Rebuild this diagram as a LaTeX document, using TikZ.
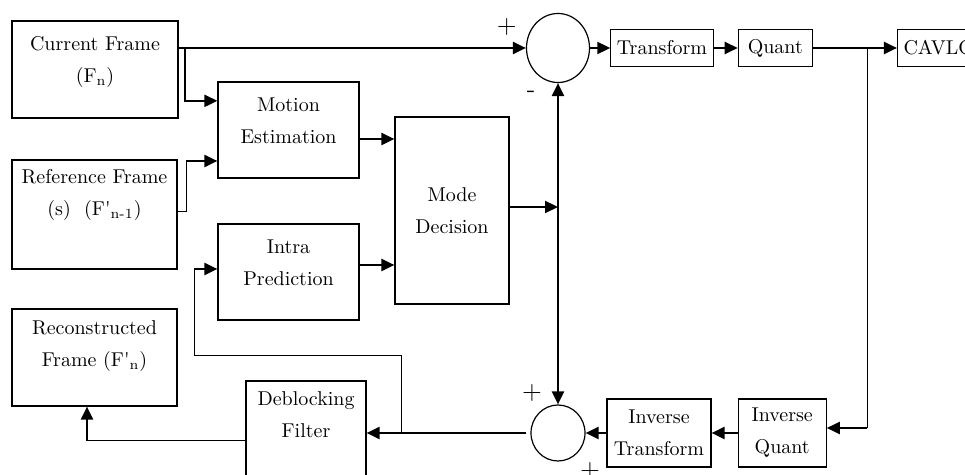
\documentclass[tikz,border=0pt]{standalone}
\usetikzlibrary{arrows.meta,positioning,calc,shapes.geometric}
\tikzset{
  box/.style={rectangle, draw, line width=0.6pt, align=center, inner sep=2pt, font=\fontsize{10}{16}\selectfont},
  smallbox/.style={box, inner xsep=3pt, minimum height=18.5pt},
  sum/.style={ellipse, draw, line width=0.6pt, inner sep=0pt},
  sign/.style={inner sep=0pt, font=\fontsize{13}{14}\selectfont},
  arr/.style={-{Triangle[length=6.5pt,width=6pt]}, line width=1.1pt},
  arrboth/.style={{Triangle[length=6.5pt,width=6pt]}-{Triangle[length=6.5pt,width=6pt]}, line width=1.1pt},
  wire/.style={line width=0.5pt}
}
\begin{document}
\begin{tikzpicture}[x=0.5pt, y=-0.5pt]
\useasboundingbox (0,0) rectangle (965,475);

\node[box, minimum width=83pt, minimum height=48.5pt] (cur) at (95,69.5) {Current Frame\\(F\textsubscript{n})\\[-6pt]};
\node[box, minimum width=82.5pt, minimum height=54.5pt] (ref) at (94.5,214.5) {Reference Frame\\(s)~~(F\textquotesingle\textsubscript{n-1})\\[6pt]};
\node[box, minimum width=82.5pt, minimum height=48.5pt] (rec) at (94.5,357.5) {Reconstructed\\Frame (F\textquotesingle\textsubscript{n})\\[-2pt]};
\node[box, minimum width=70.5pt, minimum height=48pt] (me) at (288.5,130) {Motion\\Estimation\\[-7pt]};
\node[box, minimum width=70.5pt, minimum height=48pt] (ip) at (288.5,272) {Intra\\Prediction\\[-7pt]};
\node[box, minimum width=57pt, minimum height=93.5pt] (md) at (452,210.5) {Mode\\Decision};
\node[box, minimum width=60pt, minimum height=50pt] (dbf) at (306,431) {Deblocking\\Filter\\};

\node[sum, minimum width=31.5pt, minimum height=34.5pt] (sum1) at (558,48) {};
\node[sum, minimum width=27pt, minimum height=28pt] (sum2) at (558,433) {};

\node[smallbox] (tr) at (662,48) {Transform};
\node[smallbox, minimum width=37pt, right=12pt of tr] (qt) {Quant};
\node[smallbox, right=42pt of qt] (cavlc) {CAVLC};

\node[box, minimum width=52pt, minimum height=34pt] (it) at (659,433) {Inverse\\Transform};
\node[box, minimum width=44pt, minimum height=34pt, right=13pt of it] (iq) {Inverse\\Quant};

\node[sign] (p1) at ($(sum1.west)+(-19,-21)$) {+};
\node[sign] (m1) at ($(sum1.south)+(-27,11)$) {-};
\node[sign] (p2) at ($(sum2.north)+(-26,-11)$) {+};
\node[sign] (p3) at ($(sum2.south)+(32,9)$) {+};

% forward path
\coordinate (cbr) at (185,48);
\coordinate (rk) at (186,161);
\draw[arr] (cur.east |- sum1.west) -- (sum1.west);
\draw[arr] (cbr) |- ($(me.north west)!0.2!(me.south west)$);
\draw[wire] ($(ref.east)+(0,-2.5)$) -| (rk);
\draw[arr] (rk) -- (rk -| me.west);
\draw[arr] ($(me.east)+(0,9)$) coordinate (mo) -- (mo -| md.west);
\draw[arr] ($(ip.east)+(0,-7)$) coordinate (io) -- (io -| md.west);
\draw[arr] ($(md.east)+(0,-3.5)$) coordinate (mdo) -- (mdo -| sum1.south);
\draw[arrboth] (sum2.north) -- (sum1.south);
\draw[arr] (sum1.east) -- (tr.west);
\draw[arr] (tr) -- (qt);
\draw[arr] (qt) -- (cavlc);

% reconstruction loop
\coordinate (qbr) at (867,48);
\draw[wire] (qbr) -- ($(qbr |- iq.east)+(0,-5)$) coordinate (qk);
\draw[arr] (qk) -- (qk -| iq.east);
\draw[arr] (iq) -- (it);
\draw[arr] (it) -- (sum2);
\draw[arr, shorten <=2pt] (sum2.west) -- (sum2.west -| dbf.east);
\coordinate (fb) at (401,433);
\coordinate (fbk) at (194,356);
\draw[wire] (fb) |- (fbk) -- ($(fbk |- ip.west)+(0,-3)$) coordinate (ipk);
\draw[arr] (ipk) -- (ipk -| ip.west);
\coordinate (rk2) at (87,441);
\draw[wire] (dbf.west |- rk2) -- (rk2);
\draw[arr] (rk2) -- (rk2 |- rec.south);
\end{tikzpicture}
\end{document}
